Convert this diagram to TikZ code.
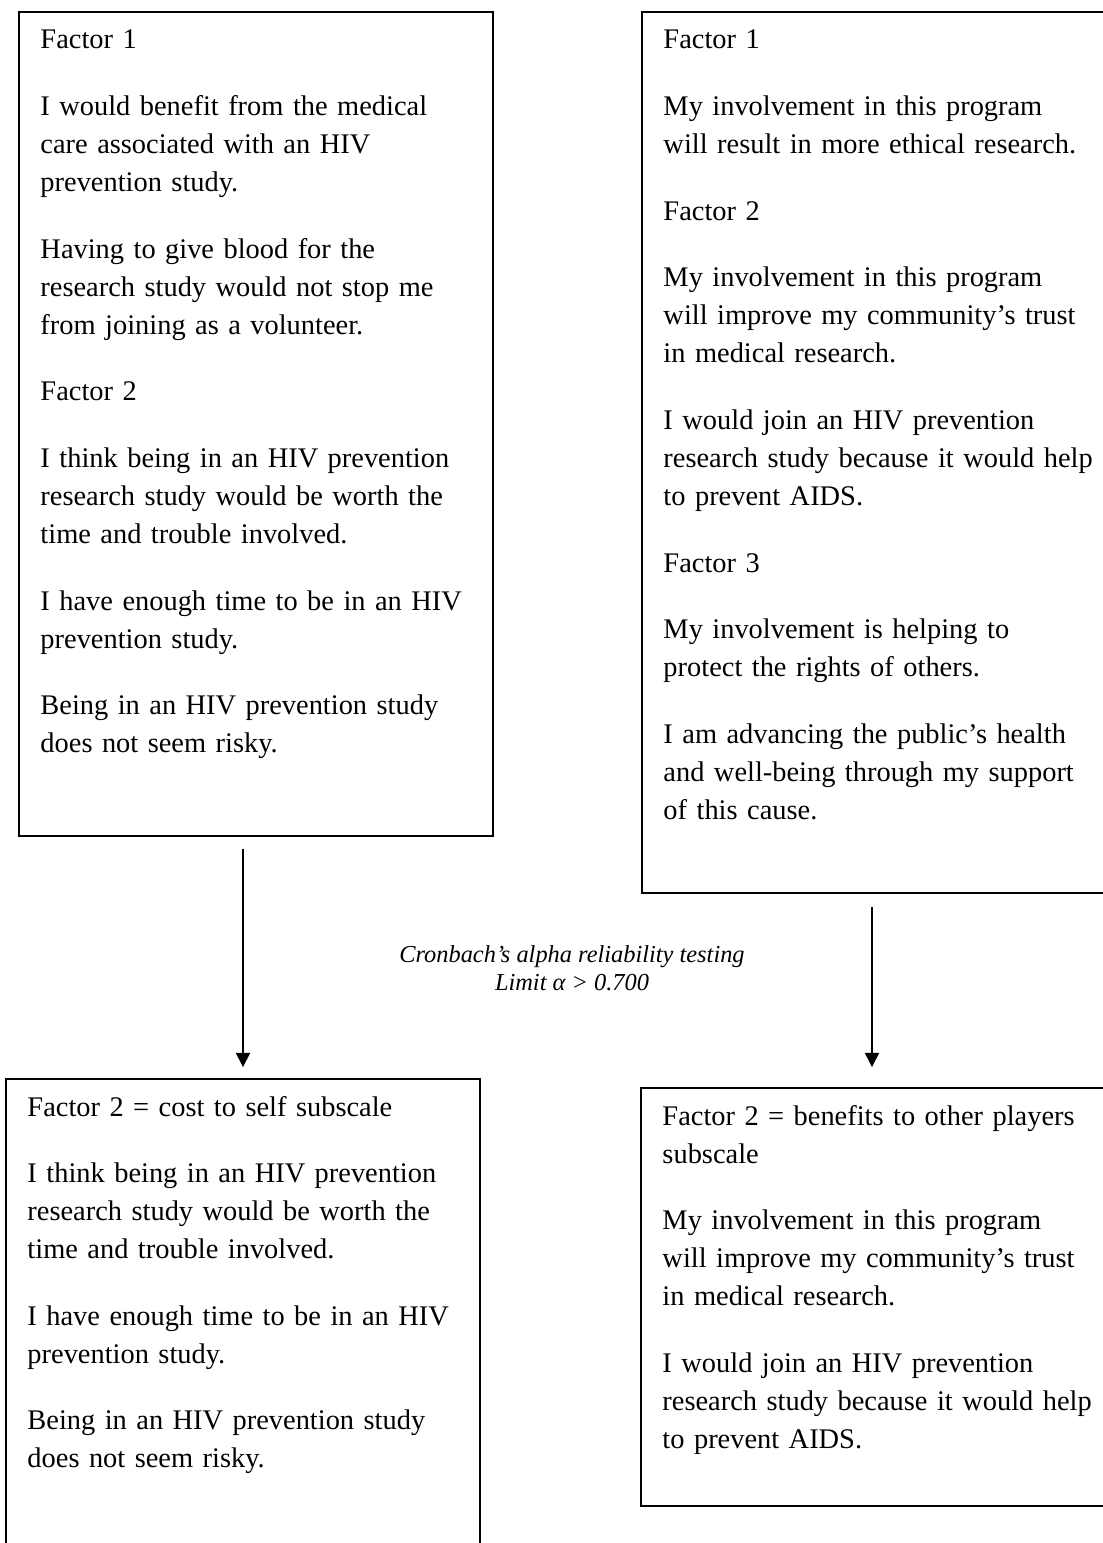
\documentclass[tikz,border=0pt]{standalone}
\usepackage{fontspec}
\setmainfont{Liberation Serif}
\usetikzlibrary{arrows.meta}
\newlength{\upx}
\setlength{\upx}{0.41pt}
\newcommand{\pgap}{\\[11.7pt]}
\tikzset{
  factbox/.style  = {draw,line width=0.7pt,inner sep=0pt,outer sep=0pt,anchor=north west},
  itemtext/.style = {anchor=base west,inner sep=0pt,text width=480\upx,align=left,
                     font=\fontsize{11.65}{15.6}\selectfont},
  notetext/.style = {align=center,inner sep=0pt,font=\fontsize{10}{11.5}\selectfont\itshape},
  flowarr/.style  = {-{Triangle[length=5.8pt,width=5.8pt]},line width=0.6pt}
}

\begin{document}
\begin{tikzpicture}[x=\upx,y=-\upx]
  \useasboundingbox (0,0) rectangle (1103,1543);
  % --- top row: the items as they were loaded on the factors
  \node[factbox,minimum width=474\upx,minimum height=824\upx] (lt) at (19,12) {};
  \node[itemtext] (lt-txt) at ([shift={(21,37)}]lt.north west)
    {Factor 1\pgap
     I would benefit from the medical\\
     care associated with an HIV\\
     prevention study.\pgap
     Having to give blood for the\\
     research study would not stop me\\
     from joining as a volunteer.\pgap
     Factor 2\pgap
     I think being in an HIV prevention\\
     research study would be worth the\\
     time and trouble involved.\pgap
     I have enough time to be in an HIV\\
     prevention study.\pgap
     Being in an HIV prevention study\\
     does not seem risky.};
  \node[factbox,minimum width=478\upx,minimum height=881\upx] (rt) at (642,12) {};
  \node[itemtext] (rt-txt) at ([shift={(21,37)}]rt.north west)
    {Factor 1\pgap
     My involvement in this program\\
     will result in more ethical research.\pgap
     Factor 2\pgap
     My involvement in this program\\
     will improve my community’s trust\\
     in medical research.\pgap
     I would join an HIV prevention\\
     research study because it would help\\
     to prevent AIDS.\pgap
     Factor 3\pgap
     My involvement is helping to\\
     protect the rights of others.\pgap
     I am advancing the public’s health\\
     and well-being through my support\\
     of this cause.};
  % --- bottom row: what is left after the reliability test
  \node[factbox,minimum width=474\upx,minimum height=481\upx] (lb) at (6,1079) {};
  \node[itemtext] (lb-txt) at ([shift={(21,37)}]lb.north west)
    {Factor 2 = cost to self subscale\pgap
     I think being in an HIV prevention\\
     research study would be worth the\\
     time and trouble involved.\pgap
     I have enough time to be in an HIV\\
     prevention study.\pgap
     Being in an HIV prevention study\\
     does not seem risky.};
  \node[factbox,minimum width=479\upx,minimum height=418\upx] (rb) at (641,1088) {};
  \node[itemtext] (rb-txt) at ([shift={(21,37)}]rb.north west)
    {Factor 2 = benefits to other players\\
     subscale\pgap
     My involvement in this program\\
     will improve my community’s trust\\
     in medical research.\pgap
     I would join an HIV prevention\\
     research study because it would help\\
     to prevent AIDS.};
  % --- the test between the rows
  \coordinate (rx) at (872,0);
  \draw[flowarr,shorten <=5.3pt,shorten >=4.9pt] (lt.south -| lb.north) -- (lb.north);
  \draw[flowarr,shorten <=5.7pt,shorten >=8.6pt] (rt.south -| rx) -- (rb.north -| rx);
  \node[notetext] (alpha) at (572,968)
       {Cronbach’s alpha reliability testing\\ Limit α > 0.700};
\end{tikzpicture}
\end{document}
